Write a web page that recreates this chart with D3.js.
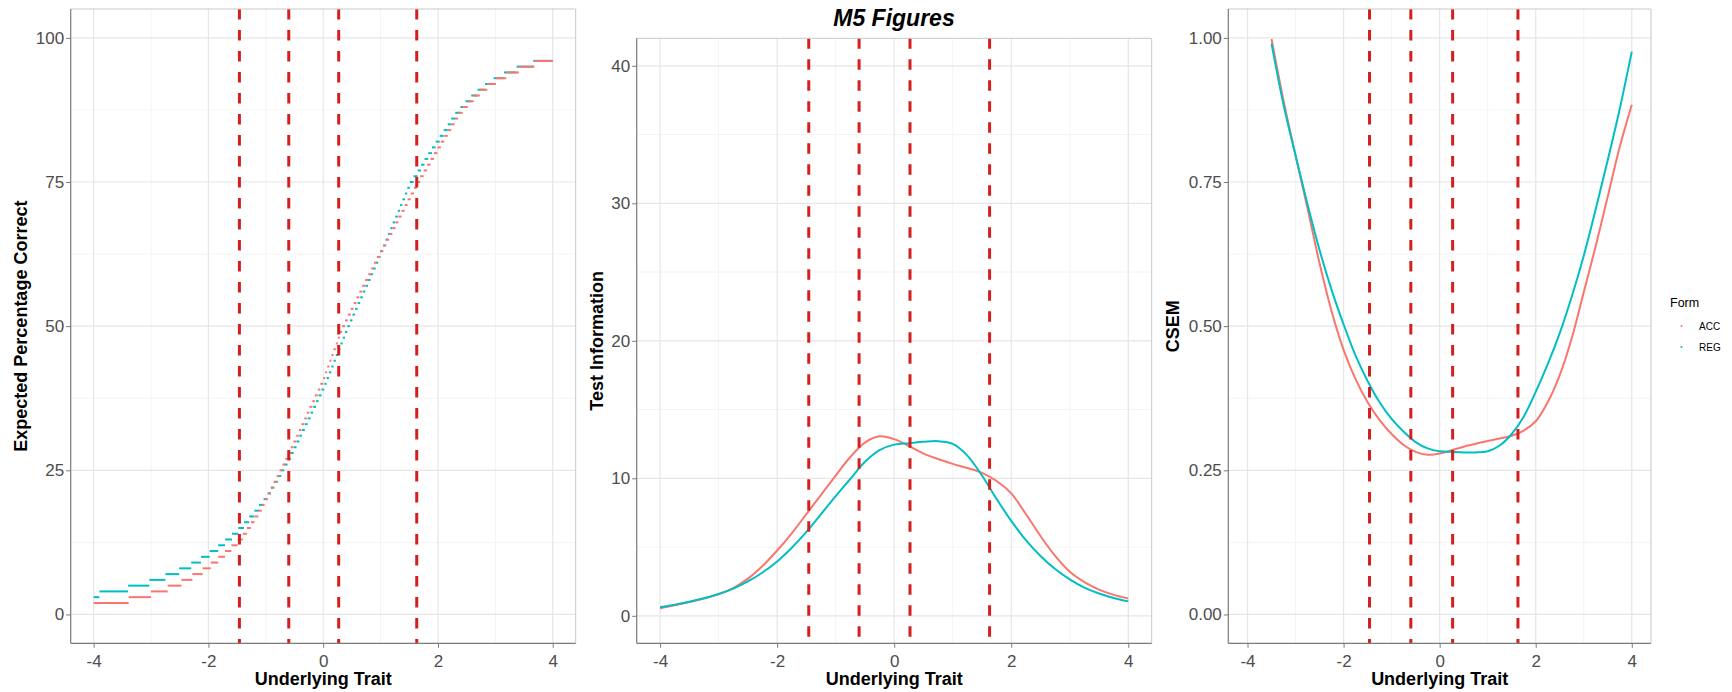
<!DOCTYPE html>
<html><head><meta charset="utf-8">
<script src="https://cdn.jsdelivr.net/npm/d3@7"></script>
<style>
body{margin:0;background:#fff}
text{font-family:"Liberation Sans",Arial,Helvetica,sans-serif}
</style></head>
<body>
<svg id="chart" width="1732" height="692"></svg>
<script>
// ---------------- data ----------------
const chartTitle = "M5 Figures";
const formNames = ["ACC", "REG"];
const formColors = ["#F8766D", "#00BFC4"];
const cutScores = [-1.46, -0.60, 0.27, 1.63];
const xTicks = [-4, -2, 0, 2, 4];
const xMinor = [-3, -1, 1, 3];
const xTitle = "Underlying Trait";

// Panel 1: expected percentage correct (integer levels, theta where each level starts)
const tccFirstLevelACC = 2;
const tccStartACC = [-4.00,-3.39,-3.00,-2.71,-2.47,-2.28,-2.10,-1.96,-1.83,-1.71,
  -1.60,-1.49,-1.40,-1.33,-1.26,-1.195,-1.13,-1.07,-1.02,-0.965,
  -0.915,-0.865,-0.81,-0.76,-0.71,-0.66,-0.61,-0.565,-0.52,-0.47,
  -0.425,-0.38,-0.33,-0.285,-0.24,-0.19,-0.145,-0.095,-0.05,0.00,
  0.035,0.07,0.11,0.145,0.18,0.22,0.255,0.29,0.33,0.38,
  0.43,0.48,0.53,0.58,0.63,0.68,0.73,0.785,0.835,0.885,
  0.935,0.99,1.045,1.10,1.15,1.205,1.26,1.31,1.365,1.42,
  1.47,1.525,1.58,1.63,1.69,1.75,1.81,1.87,1.93,1.99,
  2.05,2.11,2.17,2.23,2.29,2.35,2.43,2.52,2.62,2.73,
  2.86,3.01,3.19,3.41,3.68];
const tccFirstLevelREG = 3;
const tccStartREG = [-4.00,-3.90,-3.40,-3.03,-2.75,-2.51,-2.30,-2.13,-1.98,-1.83,
  -1.71,-1.59,-1.48,-1.38,-1.29,-1.20,-1.12,-1.04,-0.97,-0.91,
  -0.85,-0.79,-0.73,-0.68,-0.62,-0.565,-0.515,-0.465,-0.415,-0.37,
  -0.32,-0.27,-0.22,-0.175,-0.125,-0.08,-0.03,0.02,0.06,0.10,
  0.14,0.18,0.22,0.26,0.30,0.34,0.38,0.42,0.465,0.51,
  0.555,0.60,0.645,0.69,0.735,0.78,0.825,0.87,0.915,0.96,
  1.00,1.045,1.085,1.13,1.17,1.21,1.255,1.30,1.34,1.38,
  1.425,1.465,1.51,1.575,1.645,1.705,1.765,1.83,1.895,1.96,
  2.03,2.10,2.17,2.23,2.30,2.39,2.48,2.58,2.69,2.82,
  2.97,3.15,3.37,3.66];
const tccThetaMax = 4.0;

// Panel 2: test information
const infoTheta = [-4,-3.75,-3.5,-3.25,-3,-2.75,-2.5,-2.25,-2,-1.75,-1.5,-1.25,-1,-0.75,-0.5,-0.25,
  0,0.25,0.5,0.75,1,1.25,1.5,1.75,2,2.25,2.5,2.75,3,3.25,3.5,3.75,4];
const infoACC = [0.55,0.76,1.0,1.26,1.58,2.02,2.7,3.62,4.75,6.0,7.4,8.8,10.2,11.55,12.6,13.05,
  12.85,12.35,11.8,11.4,11.05,10.75,10.4,9.8,8.9,7.4,5.8,4.35,3.2,2.45,1.9,1.52,1.26];
const infoREG = [0.62,0.8,1.02,1.28,1.58,1.98,2.5,3.15,3.95,4.95,6.1,7.4,8.7,9.95,11.2,12.05,
  12.45,12.55,12.65,12.7,12.5,11.65,10.2,8.5,6.9,5.5,4.35,3.4,2.65,2.05,1.62,1.3,1.05];

// Panel 3: CSEM
const csemTheta = [-3.5,-3.25,-3,-2.75,-2.5,-2.25,-2,-1.75,-1.5,-1.25,-1,-0.75,-0.5,-0.25,
  0,0.25,0.5,0.75,1,1.25,1.5,1.75,2,2.25,2.5,2.75,3,3.25,3.5,3.75,4];
const csemACC = [0.998,0.891,0.796,0.704,0.609,0.526,0.459,0.408,0.368,0.337,0.313,0.294,0.282,0.277,
  0.279,0.285,0.291,0.296,0.301,0.305,0.310,0.319,0.335,0.368,0.415,0.479,0.559,0.639,0.725,0.811,0.884];
const csemREG = [0.990,0.884,0.796,0.711,0.632,0.563,0.503,0.449,0.405,0.368,0.339,0.317,0.299,0.288,
  0.283,0.282,0.281,0.281,0.283,0.293,0.313,0.343,0.386,0.434,0.488,0.551,0.622,0.703,0.788,0.877,0.976];

const yTicks1 = [0, 25, 50, 75, 100], yMinor1 = [12.5, 37.5, 62.5, 87.5];
const yTicks2 = [0, 10, 20, 30, 40], yMinor2 = [5, 15, 25, 35];
const yTicks3 = [0, 0.25, 0.5, 0.75, 1], yMinor3 = [0.125, 0.375, 0.625, 0.875];

// ---------------- drawing ----------------
const svg = d3.select("#chart");
svg.append("rect").attr("width", 1732).attr("height", 692).attr("fill", "#fff");

function panel(o) {
  const x = d3.scaleLinear().domain([-4.4, 4.4]).range([o.l, o.r]);
  const y = d3.scaleLinear().domain(o.yDomain).range([o.b, o.t]);
  const g = svg.append("g");
  // grid
  const grid = g.append("g");
  grid.selectAll(".mx").data(xMinor).join("line")
    .attr("x1", d => x(d)).attr("x2", d => x(d)).attr("y1", o.t).attr("y2", o.b)
    .attr("stroke", "#F4F4F4").attr("stroke-width", 1);
  grid.selectAll(".my").data(o.yMinor).join("line")
    .attr("y1", d => y(d)).attr("y2", d => y(d)).attr("x1", o.l).attr("x2", o.r)
    .attr("stroke", "#F4F4F4").attr("stroke-width", 1);
  grid.selectAll(".Mx").data(xTicks).join("line")
    .attr("x1", d => x(d)).attr("x2", d => x(d)).attr("y1", o.t).attr("y2", o.b)
    .attr("stroke", "#E6E6E6").attr("stroke-width", 1.2);
  grid.selectAll(".My").data(o.yTicks).join("line")
    .attr("y1", d => y(d)).attr("y2", d => y(d)).attr("x1", o.l).attr("x2", o.r)
    .attr("stroke", "#E6E6E6").attr("stroke-width", 1.2);
  o.draw(g, x, y);
  // cut score lines
  g.selectAll(".cut").data(cutScores).join("line")
    .attr("x1", d => x(d)).attr("x2", d => x(d)).attr("y1", o.t).attr("y2", o.b)
    .attr("stroke", "#D41F1F").attr("stroke-width", 3).attr("stroke-dasharray", "10.5,10.5");
  // border
  g.append("line").attr("x1", o.l).attr("x2", o.r).attr("y1", o.t).attr("y2", o.t).attr("stroke", "#C8C8C8");
  g.append("line").attr("x1", o.r).attr("x2", o.r).attr("y1", o.t).attr("y2", o.b).attr("stroke", "#C8C8C8");
  // axes
  const ax = g.append("g").attr("transform", `translate(0,${o.b})`)
    .call(d3.axisBottom(x).tickValues(xTicks).tickSize(4.5).tickPadding(3).tickFormat(d => d < 0 ? "-" + Math.abs(d) : d));
  const ay = g.append("g").attr("transform", `translate(${o.l},0)`)
    .call(d3.axisLeft(y).tickValues(o.yTicks).tickSize(4.5).tickPadding(2).tickFormat(o.fmt));
  [ax, ay].forEach(a => {
    a.select(".domain").remove();
    a.selectAll(".tick line").attr("stroke", "#7A7A7A");
    a.selectAll("text").attr("fill", "#4D4D4D").style("font-size", "17px")
      .style("font-family", '"Liberation Sans",Arial,sans-serif');
  });
  ax.selectAll("text").attr("dy", "0.95em");
  g.append("line").attr("x1", o.l).attr("x2", o.l).attr("y1", o.t).attr("y2", o.b).attr("stroke", "#7A7A7A").attr("stroke-width", 1.2);
  g.append("line").attr("x1", o.l).attr("x2", o.r).attr("y1", o.b).attr("y2", o.b).attr("stroke", "#7A7A7A").attr("stroke-width", 1.2);
  // titles
  g.append("text").attr("x", (o.l + o.r) / 2).attr("y", 685).attr("text-anchor", "middle")
    .style("font-size", "18px").style("font-weight", "bold").attr("fill", "#000").text(xTitle);
  g.append("text").attr("transform", `translate(${o.yTitleX},${(o.t + o.b) / 2}) rotate(-90)`)
    .attr("text-anchor", "middle").attr("dy", "0.35em")
    .style("font-size", "18px").style("font-weight", "bold").attr("fill", "#000").text(o.yTitle);
}

// Panel 1
panel({l: 70.7, r: 575.7, t: 9, b: 643.3, yDomain: [-5, 105], yTicks: yTicks1, yMinor: yMinor1,
  fmt: d => d, yTitle: "Expected Percentage Correct", yTitleX: 21,
  draw: (g, x, y) => {
    const series = [
      {starts: tccStartREG, first: tccFirstLevelREG, color: formColors[1]},
      {starts: tccStartACC, first: tccFirstLevelACC, color: formColors[0]}
    ];
    series.forEach(s => {
      const segs = s.starts.map((t, i) => ({x0: t, x1: i + 1 < s.starts.length ? s.starts[i + 1] : tccThetaMax, lv: s.first + i}));
      g.append("g").selectAll("line").data(segs).join("line")
        .attr("x1", d => x(d.x0)).attr("x2", d => x(d.x1))
        .attr("y1", d => y(d.lv)).attr("y2", d => y(d.lv))
        .attr("stroke", s.color).attr("stroke-width", 2);
    });
  }});

// Panel 2
panel({l: 636.7, r: 1151.7, t: 38.3, b: 643.3, yDomain: [-2, 42], yTicks: yTicks2, yMinor: yMinor2,
  fmt: d => d, yTitle: "Test Information", yTitleX: 597,
  draw: (g, x, y) => {
    const line = d3.line().x(d => x(d[0])).y(d => y(d[1])).curve(d3.curveCatmullRom);
    [[infoACC, formColors[0]], [infoREG, formColors[1]]].forEach(([vals, c]) => {
      g.append("path").attr("d", line(infoTheta.map((t, i) => [t, vals[i]])))
        .attr("fill", "none").attr("stroke", c).attr("stroke-width", 2);
    });
  }});

// Panel 3
panel({l: 1228.3, r: 1651, t: 9, b: 643.3, yDomain: [-0.05, 1.05], yTicks: yTicks3, yMinor: yMinor3,
  fmt: d3.format(".2f"), yTitle: "CSEM", yTitleX: 1173,
  draw: (g, x, y) => {
    const line = d3.line().x(d => x(d[0])).y(d => y(d[1])).curve(d3.curveCatmullRom);
    [[csemACC, formColors[0]], [csemREG, formColors[1]]].forEach(([vals, c]) => {
      g.append("path").attr("d", line(csemTheta.map((t, i) => [t, vals[i]])))
        .attr("fill", "none").attr("stroke", c).attr("stroke-width", 2);
    });
  }});

// Title
svg.append("text").attr("x", 894).attr("y", 26).attr("text-anchor", "middle")
  .style("font-size", "23px").style("font-weight", "bold").style("font-style", "italic")
  .attr("fill", "#000").text(chartTitle);

// Legend
const leg = svg.append("g");
leg.append("text").attr("x", 1670).attr("y", 307).style("font-size", "12.5px").attr("fill", "#000").text("Form");
leg.selectAll("circle").data(formNames).join("circle")
  .attr("cx", 1681.5).attr("cy", (d, i) => 326 + i * 21).attr("r", 1)
  .attr("fill", (d, i) => formColors[i]);
leg.selectAll(".lt").data(formNames).join("text")
  .attr("x", 1699).attr("y", (d, i) => 326 + i * 21).attr("dy", "0.35em")
  .style("font-size", "10px").attr("fill", "#000").text(d => d);
</script>
</body></html>
